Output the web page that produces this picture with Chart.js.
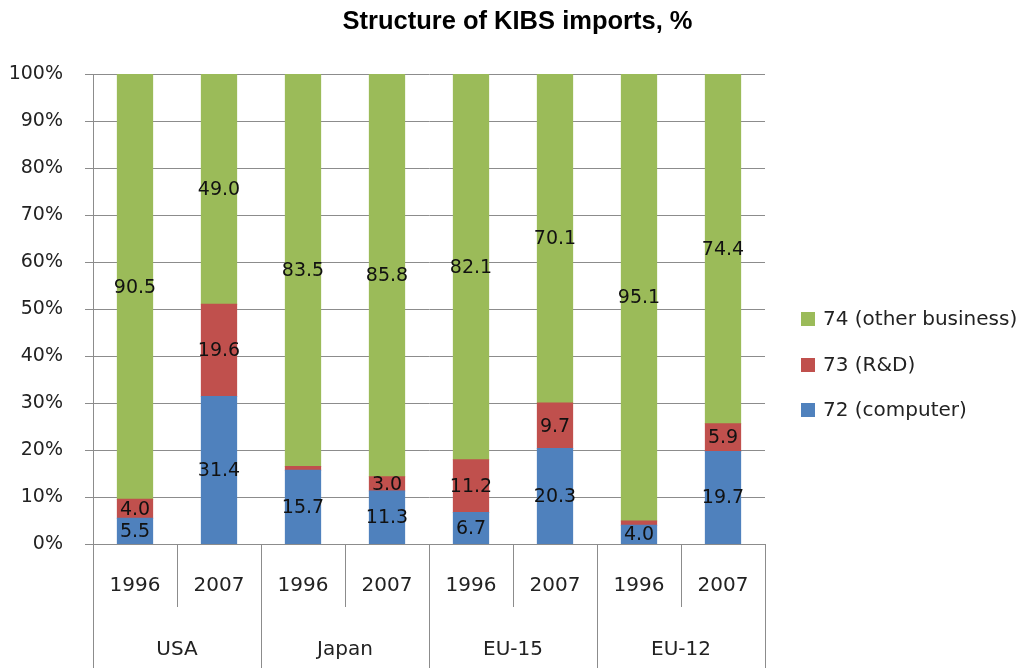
<!DOCTYPE html>
<html>
<head>
<meta charset="utf-8">
<title>Structure of KIBS imports</title>
<script src="https://cdn.jsdelivr.net/npm/chart.js@4/dist/chart.umd.min.js"></script>
<style>
  html, body { margin: 0; padding: 0; background: #fff; }
  #chart { display: block; }
</style>
</head>
<body>
<canvas id="chart" width="1029" height="668"></canvas>
<script>
// KIBS import shares by service group, %
const countries = ['USA', 'Japan', 'EU-15', 'EU-12'];
const years = ['1996', '2007'];
const computer = [5.5, 31.4, 15.7, 11.3, 6.7, 20.3, 4.0, 19.7];      // 72
const rnd = [4.0, 19.6, 0.8, 3.0, 11.2, 9.7, 0.9, 5.9];               // 73
const otherBusiness = [90.5, 49.0, 83.5, 85.8, 82.1, 70.1, 95.1, 74.4]; // 74
const seriesNames = ['72 (computer)', '73 (R&D)', '74 (other business)'];
const seriesColors = ['#4F81BD', '#C0504D', '#9BBB59'];

const labels = countries.flatMap(c => years.map(y => c + ' ' + y));
const gridColor = '#8c8c8c';
const fontFamily = '"DejaVu Sans", Verdana, sans-serif';
const minLabelValue = 2; // tiny segments carry no label

function line(ctx, x1, y1, x2, y2) {
    ctx.beginPath();
    ctx.moveTo(x1, y1);
    ctx.lineTo(x2, y2);
    ctx.stroke();
}

const decorPlugin = {
    id: 'kibsDecor',
    afterDatasetsDraw(chart) {
        const ctx = chart.ctx;
        ctx.save();
        ctx.font = '19px ' + fontFamily;
        ctx.fillStyle = '#111';
        ctx.textAlign = 'center';
        ctx.textBaseline = 'middle';
        chart.data.datasets.forEach((ds, i) => {
            chart.getDatasetMeta(i).data.forEach((bar, j) => {
                const v = ds.data[j];
                if (v < minLabelValue) return;
                ctx.fillText(v.toFixed(1), bar.x, (bar.y + bar.base) / 2 + 1);
            });
        });
        ctx.restore();
    },
    afterDraw(chart) {
        const ctx = chart.ctx;
        const { left, right, bottom } = chart.chartArea;
        const xScale = chart.scales.x;
        const step = (right - left) / labels.length;
        ctx.save();

        // title
        ctx.fillStyle = '#000';
        ctx.font = 'bold 25.5px "Liberation Sans", Arial, sans-serif';
        ctx.textAlign = 'center';
        ctx.textBaseline = 'middle';
        ctx.fillText('Structure of KIBS imports, %', chart.width / 2 + 3, 22);

        // two-level category axis
        ctx.strokeStyle = gridColor;
        ctx.lineWidth = 1;
        for (let g = 0; g <= countries.length; g++) {
            const x = Math.round(left + g * years.length * step) + 0.5;
            line(ctx, x, bottom, x, chart.height);
        }
        for (let g = 0; g < countries.length; g++) {
            for (let k = 1; k < years.length; k++) {
                const x = Math.round(left + (g * years.length + k) * step) + 0.5;
                line(ctx, x, bottom, x, bottom + 63);
            }
        }
        ctx.fillStyle = '#222';
        ctx.font = '20px ' + fontFamily;
        labels.forEach((lab, i) => {
            ctx.fillText(years[i % years.length], xScale.getPixelForValue(i), bottom + 42);
        });
        countries.forEach((c, g) => {
            const x = left + (g + 0.5) * years.length * step;
            ctx.fillText(c, x, bottom + 106);
        });

        // legend, top item is the top of the stack
        ctx.textAlign = 'left';
        const legendY = [410, 365, 319];
        chart.data.datasets.forEach((ds, i) => {
            const y = legendY[i];
            ctx.fillStyle = ds.backgroundColor;
            ctx.fillRect(801, y - 7, 14, 14);
            ctx.fillStyle = '#222';
            ctx.fillText(ds.label, 823, y + 1);
        });
        ctx.restore();
    }
};

new Chart(document.getElementById('chart'), {
    type: 'bar',
    data: {
        labels: labels,
        datasets: [computer, rnd, otherBusiness].map((values, i) => ({
            label: seriesNames[i],
            data: values,
            backgroundColor: seriesColors[i],
            borderWidth: 0,
            inflateAmount: 0.5,
            categoryPercentage: 1,
            barPercentage: 0.42
        }))
    },
    options: {
        responsive: false,
        animation: false,
        devicePixelRatio: 1,
        layout: { padding: { left: 0, right: 264, top: 74, bottom: 124 } },
        plugins: {
            legend: { display: false },
            title: { display: false },
            tooltip: { enabled: false }
        },
        scales: {
            x: {
                stacked: true,
                display: false
            },
            y: {
                stacked: true,
                min: 0,
                max: 100,
                ticks: {
                    stepSize: 10,
                    padding: 22,
                    color: '#222',
                    font: { family: fontFamily, size: 19 },
                    callback: v => v + '%'
                },
                grid: { color: gridColor, tickLength: 8 },
                border: { color: gridColor },
                afterFit: scale => { scale.width = 93; }
            }
        }
    },
    plugins: [decorPlugin]
});
</script>
</body>
</html>
